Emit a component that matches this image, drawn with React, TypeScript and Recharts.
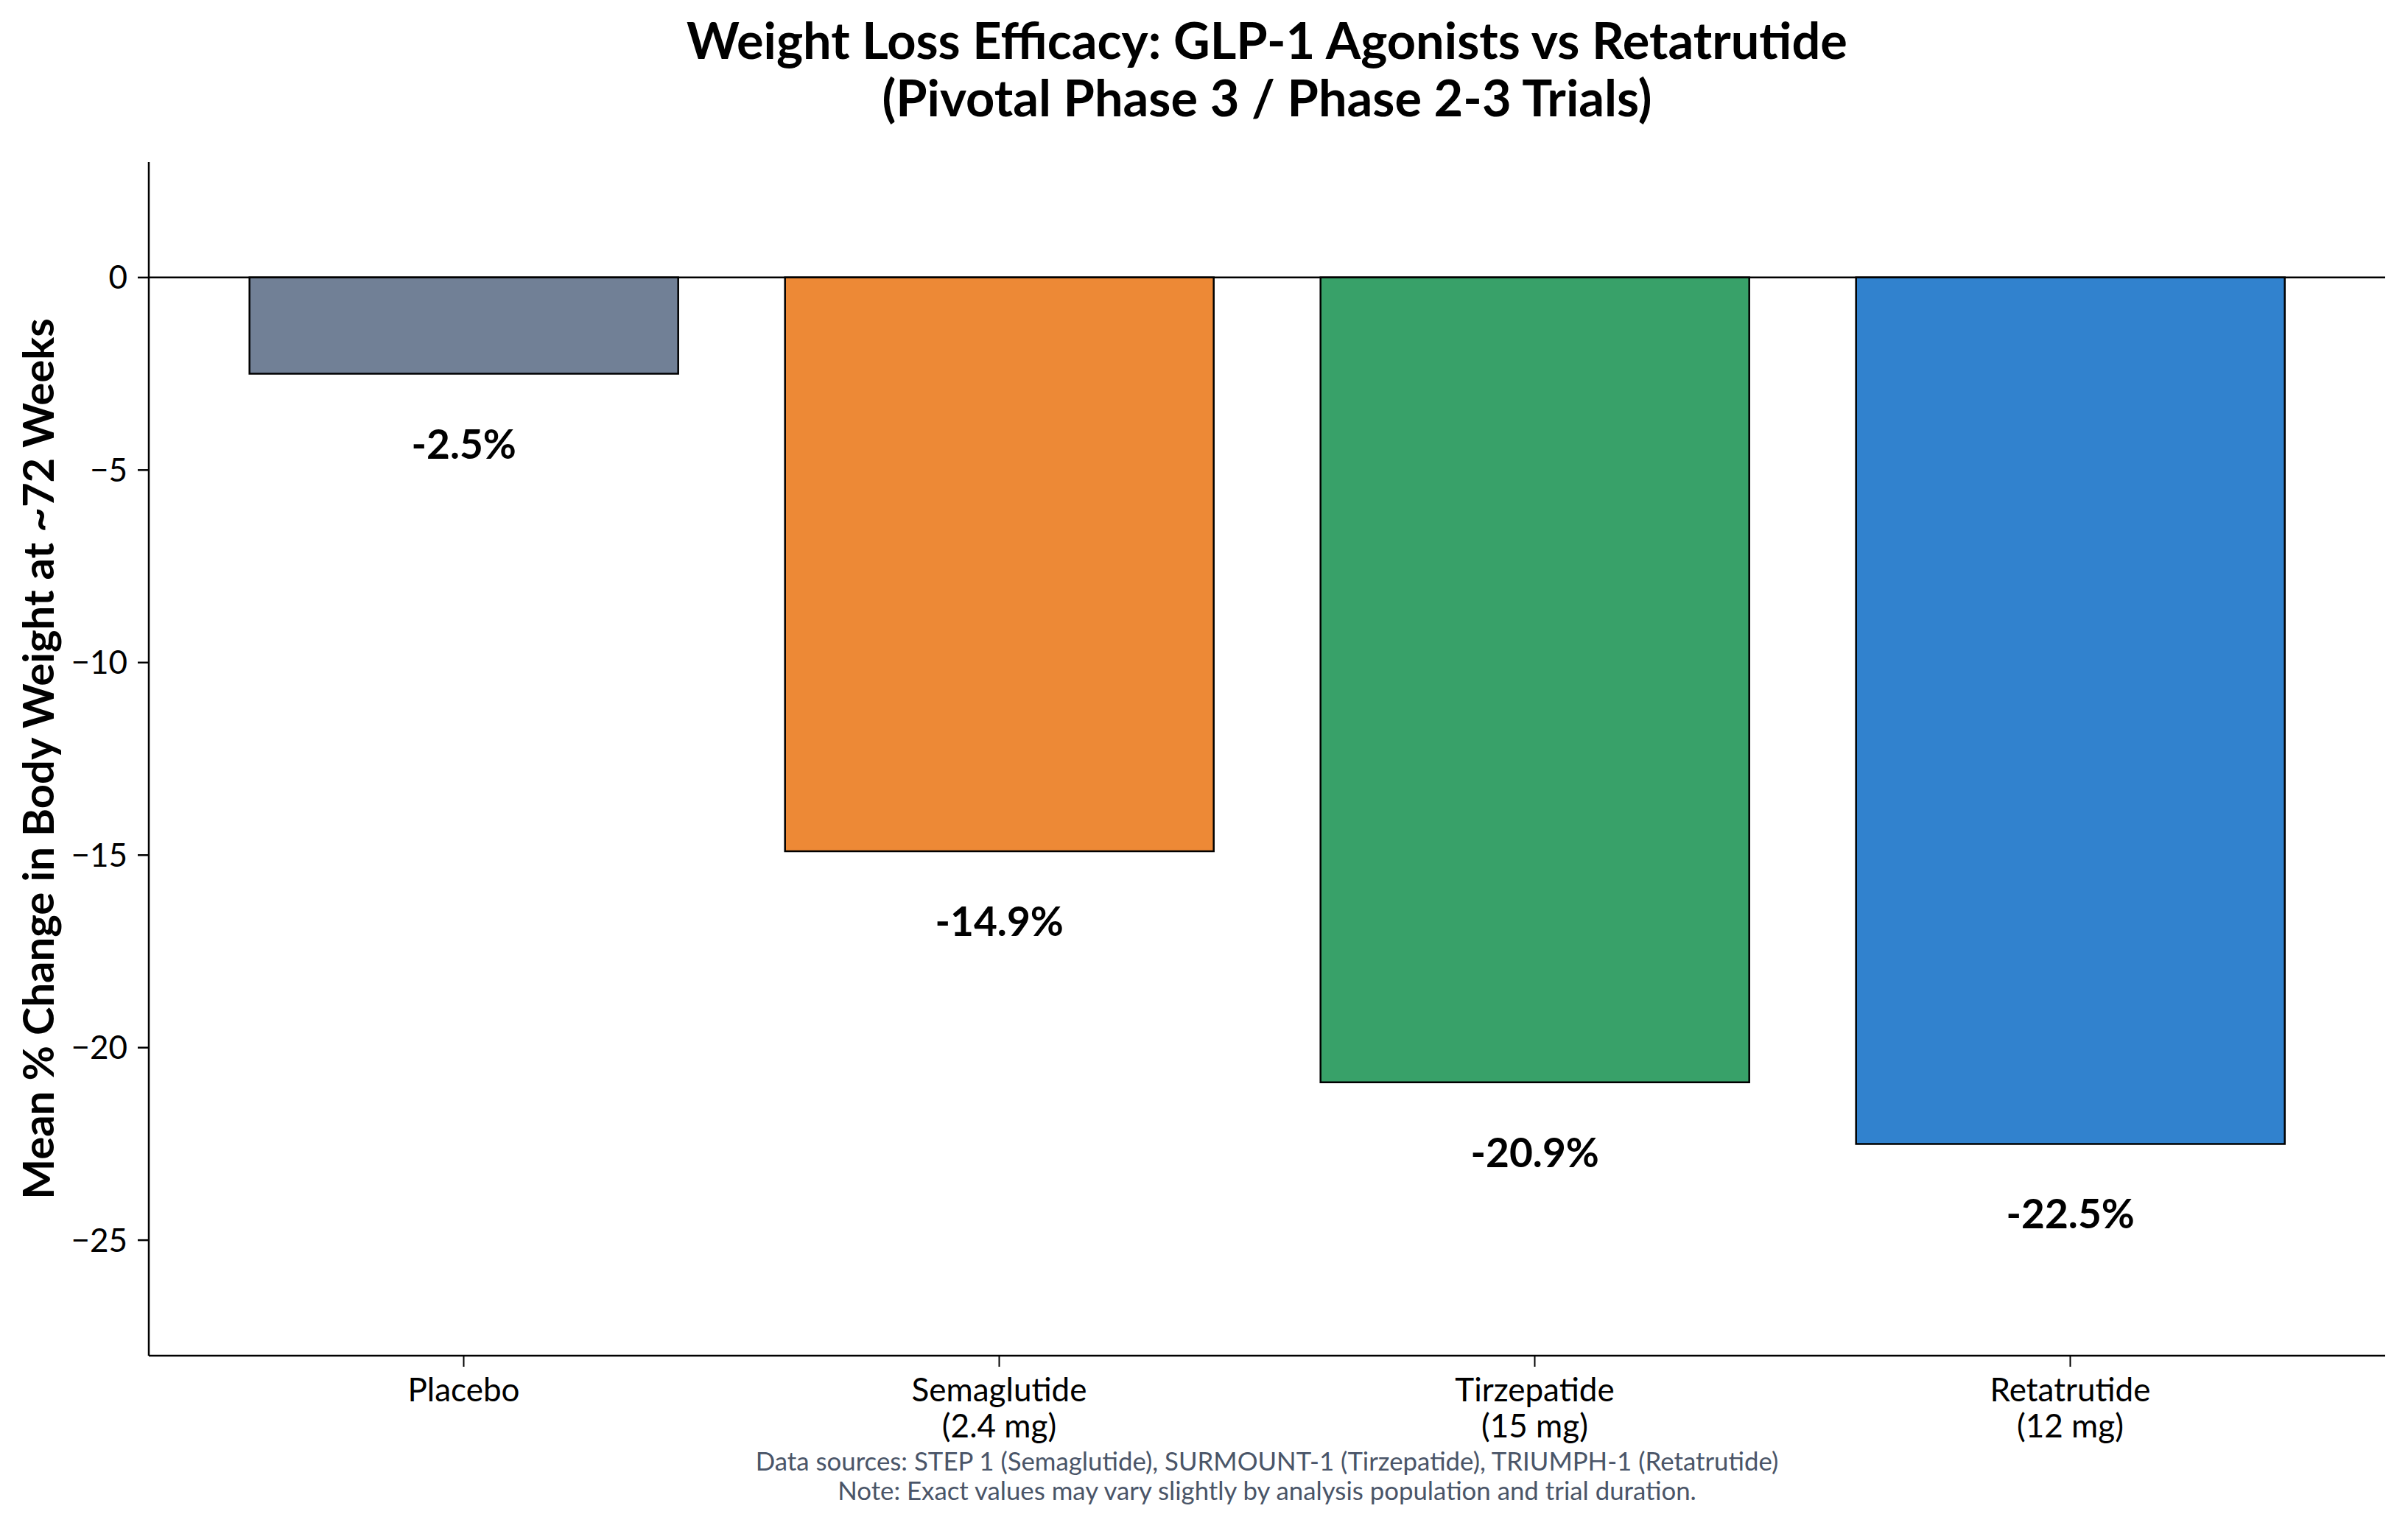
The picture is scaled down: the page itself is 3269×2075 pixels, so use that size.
import React from 'react';
import { BarChart, Bar, XAxis, YAxis, Cell, LabelList, ReferenceLine } from 'recharts';

const W = 3269;
const H = 2075;
const FONT = 'Lato, "Noto Sans", sans-serif';

const categories = ['Placebo', 'Semaglutide', 'Tirzepatide', 'Retatrutide'];
const doses = ['', '2.4 mg', '15 mg', '12 mg'];
const changes = [-2.5, -14.9, -20.9, -22.5];
const barColors = ['#718096', '#ED8936', '#38A169', '#3182CE'];
const yTicks = [0, -5, -10, -15, -20, -25];

const titleLines = [
	'Weight Loss Efficacy: GLP-1 Agonists vs Retatrutide',
	'(Pivotal Phase 3 / Phase 2-3 Trials)',
];
const yLabel = 'Mean % Change in Body Weight at ~72 Weeks';
const footnotes = [
	'Data sources: STEP 1 (Semaglutide), SURMOUNT-1 (Tirzepatide), TRIUMPH-1 (Retatrutide)',
	'Note: Exact values may vary slightly by analysis population and trial duration.',
];

const data = categories.map((name, i) => ({ name, dose: doses[i], change: changes[i] }));

// plot box
const PLOT_LEFT = 202;
const PLOT_RIGHT = 3238;
const PLOT_TOP = 220;
const PLOT_BOTTOM = 1841;
const Y_AXIS_W = 100;
const X_AXIS_H = 130;

const fmtTick = (v: number) => (v < 0 ? `\u2212${Math.abs(v)}` : `${v}`);

const DrugTick = (props: any) => {
	const { x, y, payload } = props;
	const row = data.find((d) => d.name === payload.value);
	return (
		<g>
			<text x={x} y={y + 45} textAnchor="middle" fontSize={44} fontFamily={FONT} fill="#000">
				{payload.value}
			</text>
			{row && row.dose ? (
				<text x={x} y={y + 94} textAnchor="middle" fontSize={44} fontFamily={FONT} fill="#000">
					({row.dose})
				</text>
			) : null}
		</g>
	);
};

const ValueLabel = (props: any) => {
	const x = Number(props.x);
	const y = Number(props.y);
	const w = Number(props.width);
	const h = Number(props.height);
	const end = Math.max(y, y + h);
	return (
		<text
			x={x + w / 2}
			y={end + 115}
			textAnchor="middle"
			fontSize={55}
			fontWeight="bold"
			fontFamily={FONT}
			fill="#000"
		>
			{`${Number(props.value).toFixed(1)}%`}
		</text>
	);
};

const App = () => {
	return (
		<div style={{ position: 'absolute', left: 0, top: 0, width: W, height: H, background: '#fff' }}>
			<BarChart
				width={W}
				height={H}
				data={data}
				barCategoryGap="10%"
				margin={{
					top: PLOT_TOP,
					right: W - PLOT_RIGHT,
					bottom: H - PLOT_BOTTOM - X_AXIS_H,
					left: PLOT_LEFT - Y_AXIS_W,
				}}
			>
				<XAxis
					dataKey="name"
					height={X_AXIS_H}
					padding={{ left: 64, right: 64 }}
					tick={<DrugTick />}
					tickSize={15}
					axisLine={{ stroke: '#000', strokeWidth: 2.5 }}
					tickLine={{ stroke: '#000', strokeWidth: 2 }}
					interval={0}
				/>
				<YAxis
					type="number"
					width={Y_AXIS_W}
					domain={[-28, 3]}
					ticks={yTicks}
					allowDataOverflow
					tickFormatter={fmtTick}
					tickSize={15}
					tickMargin={14}
					tick={{ fontSize: 44, fill: '#000', fontFamily: FONT }}
					axisLine={{ stroke: '#000', strokeWidth: 2.5 }}
					tickLine={{ stroke: '#000', strokeWidth: 2.5 }}
				/>
				<Bar dataKey="change" stroke="#000" strokeWidth={2.5} isAnimationActive={false}>
					{data.map((d, i) => (
						<Cell key={d.name} fill={barColors[i]} />
					))}
					<LabelList dataKey="change" content={<ValueLabel />} />
				</Bar>
				<ReferenceLine y={0} stroke="#000" strokeWidth={2.5} />
			</BarChart>

			<svg
				width={W}
				height={H}
				style={{ position: 'absolute', left: 0, top: 0, pointerEvents: 'none' }}
			>
				{titleLines.map((t, i) => (
					<text
						key={t}
						x={(PLOT_LEFT + PLOT_RIGHT) / 2}
						y={80 + i * 78}
						textAnchor="middle"
						fontSize={68.5}
						fontWeight="bold"
						fontFamily={FONT}
						fill="#000"
					>
						{t}
					</text>
				))}
				<text
					x={73}
					y={(PLOT_TOP + PLOT_BOTTOM) / 2}
					transform={`rotate(-90 73 ${(PLOT_TOP + PLOT_BOTTOM) / 2})`}
					textAnchor="middle"
					fontSize={58}
					fontWeight="bold"
					fontFamily={FONT}
					fill="#000"
				>
					{yLabel}
				</text>
				{footnotes.map((t, i) => (
					<text
						key={t}
						x={(PLOT_LEFT + PLOT_RIGHT) / 2}
						y={1997 + i * 40}
						textAnchor="middle"
						fontSize={34.8}
						fontFamily={FONT}
						fill="#4A5568"
					>
						{t}
					</text>
				))}
			</svg>
		</div>
	);
};

export default App;
